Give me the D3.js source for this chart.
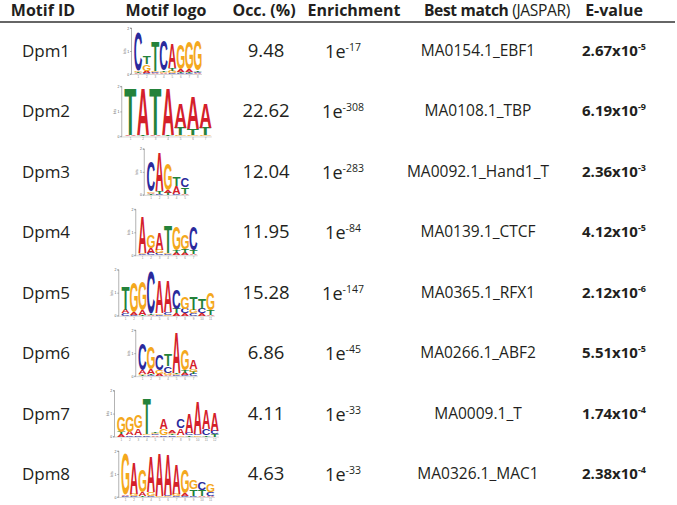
<!DOCTYPE html>
<html><head><meta charset="utf-8">
<script src="https://cdn.jsdelivr.net/npm/d3@7"></script>
<style>html,body{margin:0;padding:0;background:#fff;} svg{display:block;}</style>
</head><body><svg id="chart" width="677" height="505"></svg>
<script>
// ---------------- DATA ----------------
const headers = ["Motif ID", "Motif logo", "Occ. (%)", "Enrichment", "Best match", "E-value"];
const headerSuffix = " (JASPAR)";
const motifIds = ["Dpm1","Dpm2","Dpm3","Dpm4","Dpm5","Dpm6","Dpm7","Dpm8"];
const occ = [9.48, 22.62, 12.04, 11.95, 15.28, 6.86, 4.11, 4.63];
const enrichExp = [-17, -308, -283, -84, -147, -45, -33, -33];
const bestMatch = ["MA0154.1_EBF1","MA0108.1_TBP","MA0092.1_Hand1_T","MA0139.1_CTCF","MA0365.1_RFX1","MA0266.1_ABF2","MA0009.1_T","MA0326.1_MAC1"];
const eMantissa = ["2.67","6.19","2.36","4.12","2.12","5.51","1.74","2.38"];
const eExp = [-5, -9, -3, -5, -6, -5, -4, -4];

// motif logos: per position, [letter, bits]
const logo1 = [
 [["A",.05],["T",.05],["G",.05],["C",1.65]],
 [["C",.05],["A",.08],["G",.3],["T",.35]],
 [["A",.05],["C",.05],["G",.05],["T",1.3]],
 [["A",.05],["G",.05],["T",.05],["C",1.3]],
 [["C",.05],["G",.1],["T",.1],["A",1.05]],
 [["C",.05],["T",.05],["A",.1],["G",1.1]],
 [["C",.05],["T",.05],["A",.1],["G",1.2]],
 [["A",.05],["C",.05],["T",.05],["G",1.3]]
];
const logo2 = [
 [["A",.05],["T",1.85]],
 [["T",.05],["A",1.85]],
 [["A",.05],["T",1.85]],
 [["T",.05],["A",1.85]],
 [["G",.05],["T",.3],["A",1.0]],
 [["G",.05],["T",.25],["A",1.3]],
 [["G",.05],["T",.3],["A",1.0]]
];
const logo3 = [
 [["T",.05],["A",.05],["G",.05],["C",1.3]],
 [["C",.05],["T",.1],["A",1.7]],
 [["T",.1],["A",.1],["G",1.15]],
 [["C",.05],["A",.35],["T",.4]],
 [["A",.05],["T",.3],["C",.4]]
];
const logo4 = [
 [["C",.05],["G",.05],["A",1.55]],
 [["C",.1],["A",.2],["G",.55]],
 [["C",.1],["G",.15],["A",.75]],
 [["C",.05],["G",.05],["T",1.2]],
 [["A",.1],["T",.1],["G",1.0]],
 [["A",.1],["T",.15],["G",.6]],
 [["A",.05],["T",.15],["C",1.0]]
];
const logo5 = [
 [["C",.1],["A",.15],["T",1.0]],
 [["C",.05],["A",.1],["G",1.3]],
 [["T",.05],["A",.2],["G",1.25]],
 [["A",.05],["T",.05],["C",1.8]],
 [["C",.05],["G",.05],["A",1.4]],
 [["G",.05],["C",.1],["A",1.35]],
 [["A",.1],["T",.2],["C",.85]],
 [["A",.1],["C",.2],["G",.5]],
 [["C",.1],["G",.15],["T",.55]],
 [["A",.1],["C",.2],["T",.45]],
 [["A",.05],["T",.2],["G",.75]]
];
const logo6 = [
 [["T",.05],["G",.05],["A",.15],["C",1.15]],
 [["C",.05],["T",.05],["A",.2],["G",.95]],
 [["A",.1],["G",.15],["C",.7]],
 [["A",.05],["G",.1],["C",.3],["T",.5]],
 [["C",.05],["G",.05],["T",.05],["A",1.75]],
 [["C",.05],["A",.1],["T",.1],["G",.9]],
 [["C",.1],["T",.1],["G",.1],["A",.4]]
];
const logo7 = [
 [["A",.1],["T",.1],["G",.7]],
 [["C",.05],["A",.15],["G",.7]],
 [["C",.05],["A",.3],["G",.55]],
 [["C",.05],["G",.05],["T",1.5]],
 [["A",.05],["C",.05],["G",.05],["T",.05]],
 [["C",.05],["G",.3],["A",.45]],
 [["C",.05],["T",.05],["G",.05],["A",.1]],
 [["G",.05],["A",.3],["C",.4]],
 [["T",.05],["C",.1],["A",.85]],
 [["G",.05],["C",.05],["A",1.4]],
 [["T",.05],["C",.3],["A",.85]],
 [["T",.1],["C",.15],["A",.8]]
];
const logo8 = [
 [["C",.05],["A",.05],["G",1.75]],
 [["C",.05],["G",.1],["A",1.35]],
 [["T",.05],["A",.15],["G",.95]],
 [["C",.05],["G",.15],["A",1.5]],
 [["G",.05],["A",1.85]],
 [["G",.05],["C",.05],["A",1.75]],
 [["C",.05],["G",.1],["A",1.3]],
 [["C",.05],["A",.1],["G",1.05]],
 [["C",.05],["T",.3],["G",.4]],
 [["A",.05],["T",.25],["C",.35]],
 [["A",.05],["C",.15],["G",.35]]
];
const logos = [logo1, logo2, logo3, logo4, logo5, logo6, logo7, logo8];

// ---------------- STYLE / LAYOUT ----------------
const W = 677, H = 505;
const ink = "#231f20";
const FONT = "'Open Sans', 'DejaVu Sans', sans-serif";
const letterColor = {A: "#d4202a", C: "#2a2a9c", G: "#f4a81d", T: "#24823a"};
const logoLayout = {def: {w: 8.5, bit: 23}, Dpm2: {w: 12.5, bit: 25}};
const colX = {id: 46, logo: 168, occ: 266, enr: 343, best: 478, ev: 614};
const headX = [43, 166, 264, 354, 497, 614];

const svg = d3.select("#chart");
svg.append("rect").attr("width", W).attr("height", H).attr("fill", "#fff");

const y = d3.scalePoint().domain(motifIds).range([51, 474]);

// header
const hdr = svg.append("g").attr("font-family", FONT).attr("font-weight", "bold")
  .attr("font-size", 16).attr("fill", ink).attr("text-anchor", "middle");
headers.forEach((h, i) => {
  const t = hdr.append("text").attr("x", headX[i]).attr("y", 16).text(h);
  if (h === "Best match") {
    t.attr("letter-spacing", -0.35).attr("font-size", 15.6);
    t.append("tspan").attr("font-weight", "normal").text(headerSuffix);
  }
});
svg.append("line").attr("x1", 0).attr("x2", 675).attr("y1", 22).attr("y2", 22)
  .attr("stroke", "#333").attr("stroke-width", 1.6);

// rows
const rows = svg.append("g").attr("font-family", FONT).attr("fill", ink).attr("text-anchor", "middle");
motifIds.forEach((id, i) => {
  const cy = y(id);
  rows.append("text").attr("x", colX.id).attr("y", cy + 6).attr("font-size", 17).text(id);
  rows.append("text").attr("x", colX.occ).attr("y", cy + 6).attr("font-size", 18.5).text(d3.format(".2f")(occ[i]));
  const e = rows.append("text").attr("x", colX.enr).attr("y", cy + 7).attr("font-size", 18);
  e.append("tspan").text("1e");
  e.append("tspan").attr("font-size", 10.5).attr("dy", -7).text(String(enrichExp[i]));
  rows.append("text").attr("x", colX.best).attr("y", cy + 5).attr("font-size", 15.5).text(bestMatch[i]);
  const ev = rows.append("text").attr("x", colX.ev).attr("y", cy + 5).attr("font-size", 15).attr("font-weight", "bold");
  ev.append("tspan").text(eMantissa[i] + "x10");
  ev.append("tspan").attr("font-size", 9).attr("dy", -6).text(String(eExp[i]));
});

// letter metrics
const cvs = document.createElement("canvas");
const ctx = cvs.getContext("2d");
const LFONT = "'Liberation Sans', Arial, sans-serif";
ctx.font = "bold 100px " + LFONT;
const met = {};
"ACGT".split("").forEach(l => {
  const m = ctx.measureText(l);
  met[l] = {l: m.actualBoundingBoxLeft, r: m.actualBoundingBoxRight, a: m.actualBoundingBoxAscent, d: m.actualBoundingBoxDescent};
});

// logos
logos.forEach((logo, i) => {
  const id = motifIds[i];
  const cy = y(id);
  const lay = logoLayout[id] || logoLayout.def;
  const n = logo.length;
  const x = d3.scaleLinear().domain([0, n]).range([colX.logo - n * lay.w / 2, colX.logo + n * lay.w / 2]);
  const bits = d3.scaleLinear().domain([0, 2]).range([cy + lay.bit, cy - lay.bit]);
  const g = svg.append("g");
  const ax = x(0) - 2.5;
  const axis = d3.axisLeft(bits).tickValues([0, 1, 2]).tickSize(1.5).tickPadding(0.8).tickFormat(d3.format("d"));
  const ag = g.append("g").attr("transform", `translate(${ax},0)`).call(axis);
  ag.selectAll("path,line").attr("stroke", "#666").attr("stroke-width", 0.5);
  ag.select(".domain").attr("d", `M-1.5,${bits(2)}H0V${bits(0)}H-1.5`);
  ag.selectAll("text").attr("font-size", 3.5).attr("fill", "#555").attr("font-family", LFONT);
  g.append("text").attr("transform", `translate(${ax - 6},${cy}) rotate(-90)`)
    .attr("text-anchor", "middle").attr("font-size", 3.5).attr("fill", "#666")
    .attr("font-family", LFONT).text("bits");
  g.append("line").attr("x1", ax).attr("x2", x(n)).attr("y1", bits(0) + 0.5).attr("y2", bits(0) + 0.5)
    .attr("stroke", "#999").attr("stroke-width", 0.4);
  logo.forEach((stack, p) => {
    g.append("text").attr("x", x(p + 0.5)).attr("y", bits(0) + 4).attr("text-anchor", "middle")
      .attr("font-size", 3).attr("fill", "#888").attr("font-family", LFONT).text(p + 1);
    const sorted = stack.slice().sort((a, b) => a[1] - b[1]);
    let cum = 0;
    sorted.forEach(([l, h]) => {
      const y0 = bits(cum), y1 = bits(cum + h);
      cum += h;
      const m = met[l];
      const bw = (x(p + 1) - x(p)) - 0.6, bh = y0 - y1;
      const sx = bw / (m.l + m.r), sy = bh / (m.a + m.d);
      g.append("text").attr("font-family", LFONT).attr("font-weight", "bold").attr("font-size", 100)
        .attr("fill", letterColor[l])
        .attr("transform", `translate(${x(p) + 0.3},${y0}) scale(${sx},${sy}) translate(${m.l},${-m.d})`)
        .text(l);
    });
  });
});
</script></body></html>
